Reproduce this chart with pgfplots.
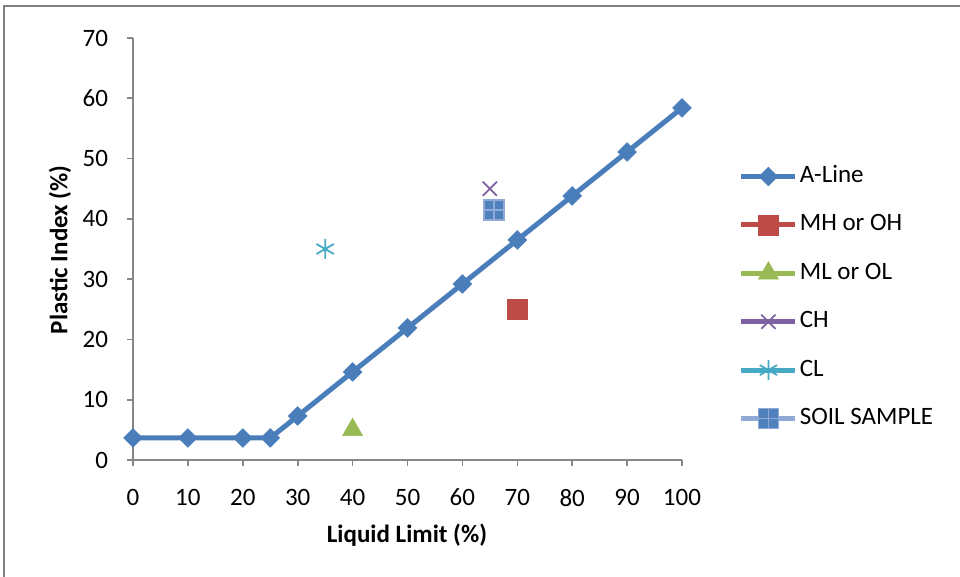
\documentclass[border=0pt]{standalone}
\usepackage{fontspec}
\setmainfont{Carlito}
\usepackage{pgfplots}
\pgfplotsset{compat=1.18}
\definecolor{aline}{RGB}{74,126,187}
\definecolor{mhc}{RGB}{190,75,72}
\definecolor{mlc}{RGB}{152,185,84}
\definecolor{chc}{RGB}{125,96,160}
\definecolor{clc}{RGB}{70,170,196}
\definecolor{ssline}{RGB}{143,170,214}
\definecolor{ssfill}{RGB}{79,129,189}
\definecolor{axgray}{RGB}{134,134,134}
\definecolor{framegray}{RGB}{128,128,128}
\pgfdeclareplotmark{sqplus}{%
  \pgfpathrectangle{\pgfqpoint{-\pgfplotmarksize}{-\pgfplotmarksize}}{\pgfqpoint{2\pgfplotmarksize}{2\pgfplotmarksize}}%
  \pgfusepathqfillstroke
  \pgfpathmoveto{\pgfqpoint{-\pgfplotmarksize}{0pt}}\pgfpathlineto{\pgfqpoint{\pgfplotmarksize}{0pt}}%
  \pgfpathmoveto{\pgfqpoint{0pt}{-\pgfplotmarksize}}\pgfpathlineto{\pgfqpoint{0pt}{\pgfplotmarksize}}%
  \pgfusepathqstroke}
\begin{document}
\begin{tikzpicture}[x=1pt,y=1pt]
\useasboundingbox (0,0) rectangle (480,288.5);
\draw[framegray, line width=1pt] (2,-2) -- (2,285.5) -- (482,285.5);
\begin{axis}[
  at={(66.5pt,58.5pt)}, anchor=south west, scale only axis,
  width=274.5pt, height=211pt,
  xmin=0, xmax=100, ymin=0, ymax=70,
  clip=false,
  axis x line*=bottom, axis y line*=left,
  axis line style={axgray, line width=0.8pt, -},
  xtick={0,10,...,100}, ytick={0,10,...,70},
  tick align=outside, major tick length=3pt,
  tick style={axgray, line width=0.8pt},
  /pgf/number format/assume math mode=true,
  ticklabel style={font=\fontsize{12.5}{14}\selectfont, text=black},
  xticklabel style={yshift=-8pt},
  yticklabel style={xshift=-6pt},
  xlabel={\textbf{Liquid Limit (\%)}},
  ylabel={\textbf{Plastic Index (\%)}},
  label style={font=\fontsize{12.5}{14}\selectfont},
  xlabel style={at={(axis description cs:0.499,-0.178)}, anchor=center},
  ylabel style={at={(axis description cs:-0.133,0.498)}, anchor=center, rotate=0},
  legend style={at={(axis description cs:1.092,0.713)}, anchor=north west, draw=none, fill=none,
    font=\fontsize{12.5}{14}\selectfont, row sep=11.2pt,
    nodes={inner sep=1pt, text height=8.5pt, text depth=2.5pt}},
  legend cell align=left,
  legend image code/.code={\draw[mark repeat=2, mark phase=2, #1] plot coordinates {(0pt,0pt) (13.5pt,0pt) (27pt,0pt)};},
]
\addplot[aline, line width=2.5pt, mark=square*, mark size=3.3pt, mark options={rotate=45, line width=0.3pt, fill=aline}]
  coordinates {(0,3.65) (10,3.65) (20,3.65) (25,3.65) (30,7.3) (40,14.6) (50,21.9) (60,29.2) (70,36.5) (80,43.8) (90,51.1) (100,58.4)};
\addlegendentry{A-Line}
\addplot[mhc, line width=2.5pt, mark=square*, mark size=5pt, mark options={line width=0.3pt, fill=mhc}]
  coordinates {(70,25)};
\addlegendentry{MH or OH}
\addplot[mlc, line width=2.5pt, mark=triangle*, mark size=5.8pt, mark options={line width=0.3pt, fill=mlc}]
  coordinates {(40,5)};
\addlegendentry{ML or OL}
\addplot[chc, line width=2.5pt, mark=x, mark size=5pt, mark options={line width=0.9pt}]
  coordinates {(65,45)};
\addlegendentry{CH}
\addplot[clc, line width=2.5pt, mark=asterisk, mark size=5pt, mark options={line width=0.9pt}]
  coordinates {(35,35)};
\addlegendentry{CL}
\addplot[ssline, line width=2.5pt, mark=sqplus, mark size=5pt, mark options={line width=0.8pt, fill=ssfill, draw=ssline}]
  coordinates {(65.8,41.5)};
\addlegendentry{SOIL SAMPLE}
\end{axis}
\end{tikzpicture}
\end{document}
